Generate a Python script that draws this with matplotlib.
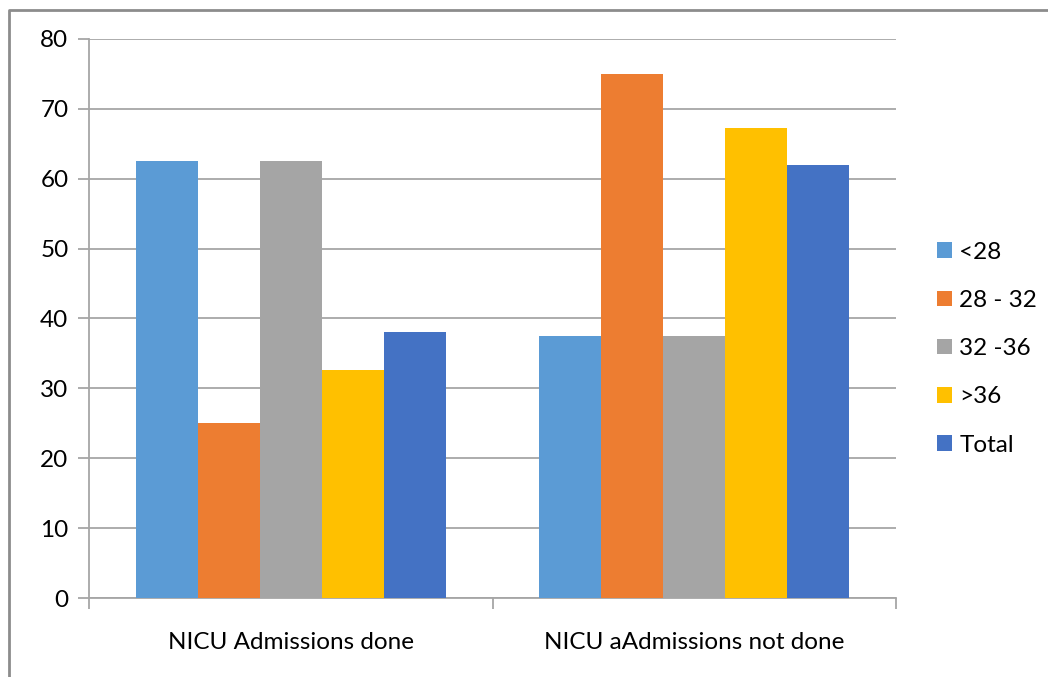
import numpy as np
import matplotlib
matplotlib.use('Agg')
import matplotlib.pyplot as plt
from matplotlib.lines import Line2D

categories = ['NICU Admissions done', 'NICU aAdmissions not done']
series = ['<28', '28 - 32', '32 -36', '>36', 'Total']
values = {
    '<28': [62.5, 37.5],
    '28 - 32': [25, 75],
    '32 -36': [62.5, 37.5],
    '>36': [32.7, 67.2],
    'Total': [38, 62],
}
colors = ['#5B9BD5', '#ED7D31', '#A5A5A5', '#FFC000', '#4472C4']
yticks = [0, 10, 20, 30, 40, 50, 60, 70, 80]

plt.rcParams['font.family'] = ['Lato', 'DejaVu Sans']
grid_col = '#a6a6a6'
fs = 17.5

fig = plt.figure(figsize=(10.48, 6.77), dpi=100)
ax = fig.add_axes([0.0852, 0.1160, 0.7695, 0.8271])

x = np.arange(len(categories))
w = 1 / 6.5
for i, (name, col) in enumerate(zip(series, colors)):
    ax.bar(x + (i - 2) * w, values[name], width=w, color=col, label=name, zorder=3)

ax.set_xlim(-0.5, 1.5)
ax.set_ylim(0, 80)
ax.set_yticks(yticks)
ax.set_xticks(x)
ax.set_xticklabels(categories, fontsize=fs)
ax.tick_params(axis='y', labelsize=fs, length=8, color=grid_col, width=1.3, pad=7)
# category boundaries carry the x tick marks, labels sit in between
ax.set_xticks([-0.5, 0.5, 1.5], minor=True)
ax.tick_params(axis='x', which='major', length=0, pad=24)
ax.tick_params(axis='x', which='minor', length=8, color=grid_col, width=1.3)
ax.grid(True, axis='y', color=grid_col, linewidth=1.3, zorder=0)
for s in ['top', 'right']:
    ax.spines[s].set_visible(False)
for s in ['left', 'bottom']:
    ax.spines[s].set_color(grid_col)
    ax.spines[s].set_linewidth(1.3)

ax.legend(loc='center left', bbox_to_anchor=(0.873, 0.485), bbox_transform=fig.transFigure,
          frameon=False, fontsize=fs, handlelength=0.62, handleheight=0.62,
          handletextpad=0.3, labelspacing=1.12)

# outer chart border
fig.add_artist(Line2D([0.0082, 0.0082, 1.0], [0.0, 0.9855, 0.9855],
                      transform=fig.transFigure, color='#8c8c8c', linewidth=2))

fig.savefig('out.png', dpi=100)
